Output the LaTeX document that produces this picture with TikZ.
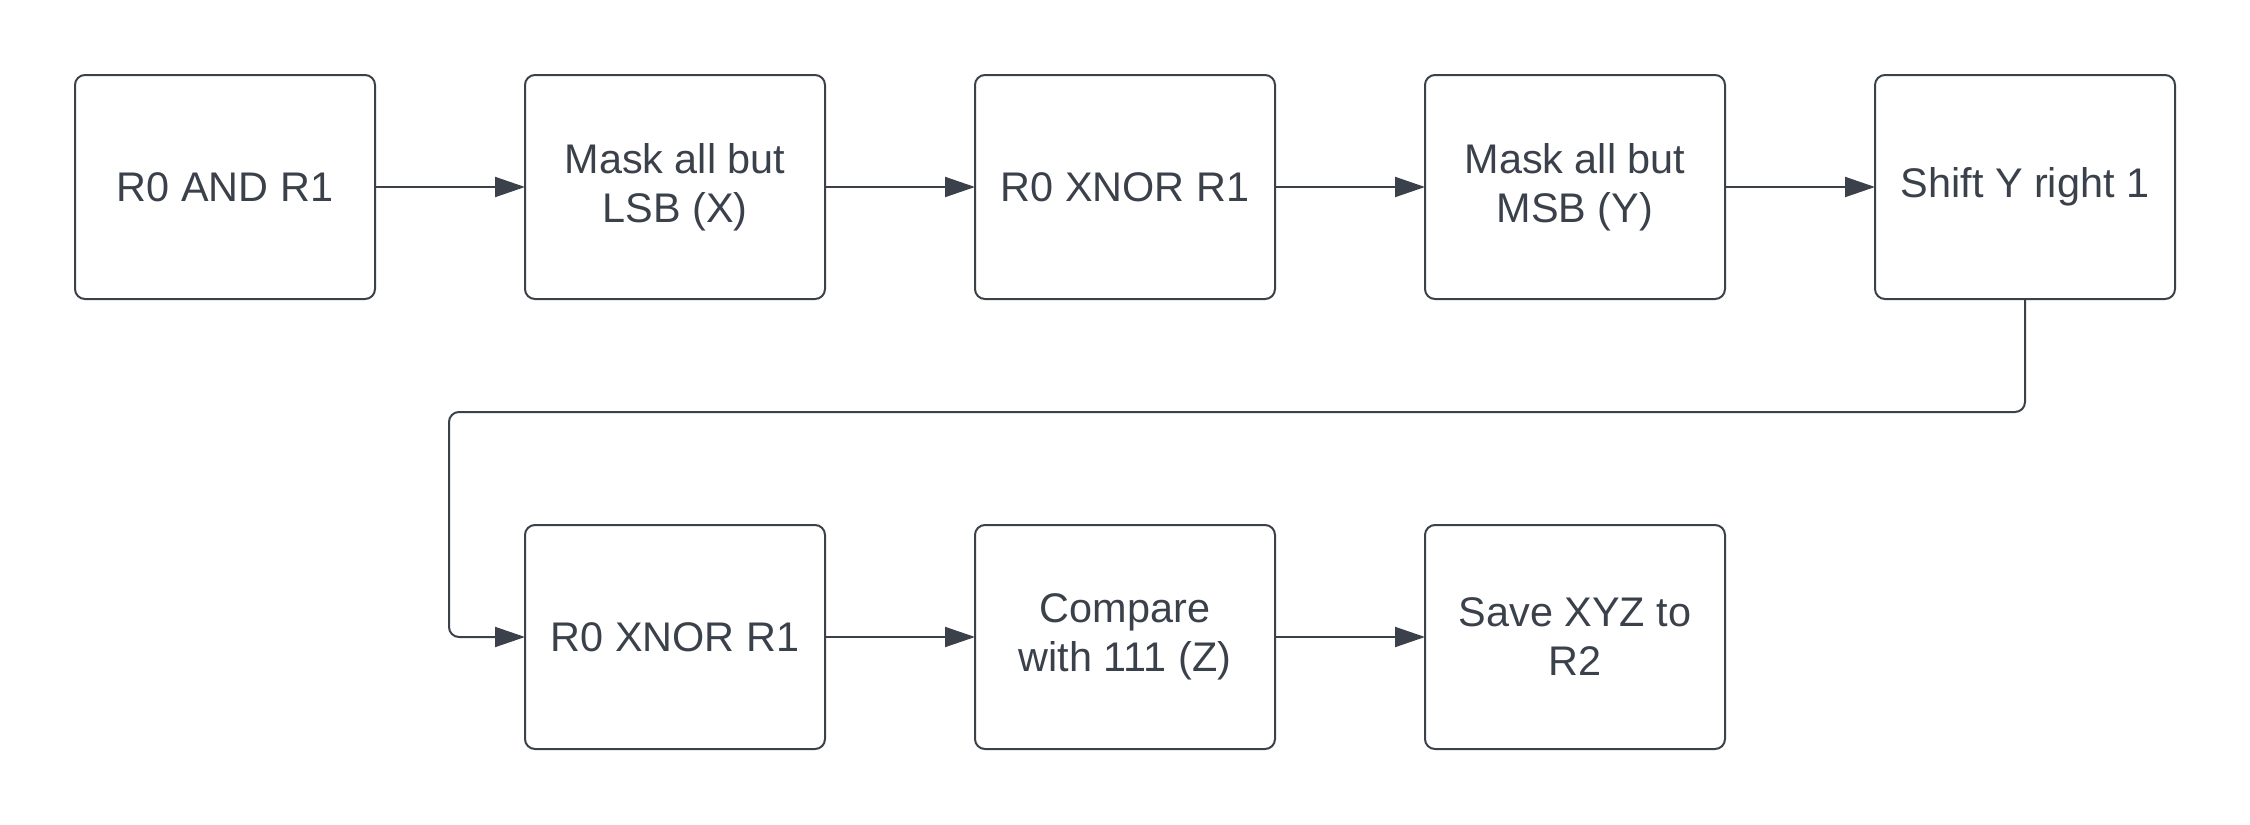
\documentclass[tikz,border=0pt]{standalone}
\usepackage{fontspec}
\setmainfont{Liberation Sans}
\usetikzlibrary{arrows.meta,positioning,calc}
\definecolor{ink}{HTML}{3A414A}

\begin{document}
\begin{tikzpicture}[line width=1pt, color=ink, %
    block/.style={rectangle, draw, align=center, rounded corners=5pt, %
      minimum width=150pt, minimum height=112pt, inner sep=0pt, outer sep=0pt, %
      font=\fontsize{20.7pt}{24.5pt}\selectfont},
    flow/.style={-{Triangle[length=15pt,width=10pt]}}]
  \useasboundingbox (0,0) rectangle (1125pt,-412.5pt);
%
  \node[block] (AndOp) at (112.5pt,-93.5pt) {R0 AND R1};
  \node[block, right=75pt of AndOp] (MaskLSB) {Mask all but\\LSB (X)};
  \node[block, right=75pt of MaskLSB] (XnorOne) {R0 XNOR R1};
  \node[block, right=75pt of XnorOne] (MaskMSB) {Mask all but\\MSB (Y)};
  \node[block, right=75pt of MaskMSB] (ShiftY) {Shift Y right 1};
%
  \node[block, below=113pt of MaskLSB] (XnorTwo) {R0 XNOR R1};
  \node[block, right=75pt of XnorTwo] (Compare) {Compare\\with 111 (Z)};
  \node[block, right=75pt of Compare] (SaveXYZ) {Save XYZ to\\R2};
%
  \draw [flow] (AndOp)--(MaskLSB);
  \draw [flow] (MaskLSB)--(XnorOne);
  \draw [flow] (XnorOne)--(MaskMSB);
  \draw [flow] (MaskMSB)--(ShiftY);
  \draw [flow, rounded corners=5pt] (ShiftY.south) |- ($(XnorTwo.west)+(-38pt,112.5pt)$) %
    |- (XnorTwo.west);
  \draw [flow] (XnorTwo)--(Compare);
  \draw [flow] (Compare)--(SaveXYZ);
\end{tikzpicture}
\end{document}
